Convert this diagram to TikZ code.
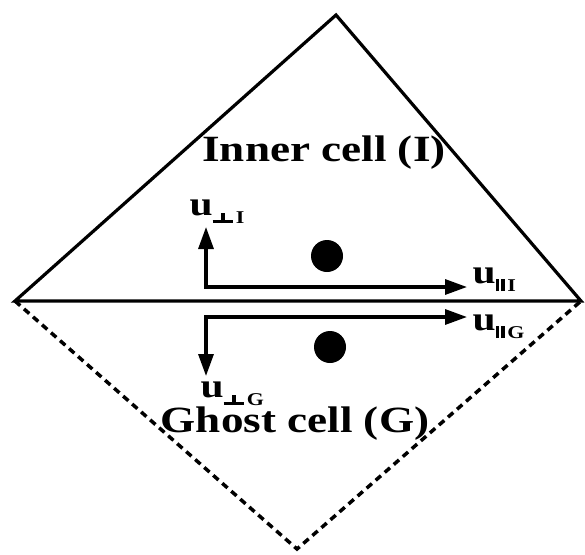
\documentclass[tikz,border=0pt]{standalone}
\usepackage{fontspec}
\setmainfont{Liberation Serif}
\usetikzlibrary{arrows.meta}
\newcommand\wide[1]{\scalebox{1.22}[1]{#1}}
\newcommand\perpsym{\rlap{\hspace{7pt}\rule{3pt}{10pt}}\rule{17pt}{3pt}}
\newcommand\parsym{\rule{3pt}{12pt}\hspace{1.5pt}\rule{3pt}{12pt}}
\newcommand\ulabel[2]{\wide{\fontsize{34}{34}\selectfont\bfseries u\raisebox{-8pt}{\fontsize{18}{18}\selectfont\bfseries #1\hspace{2pt}#2}}}
\begin{document}
\begin{tikzpicture}[x=1pt,y=-1pt,line width=3.2pt,
  edge/.style={line join=miter},
  dashedge/.style={line width=3.5pt,dash pattern=on 7pt off 5pt},
  vec/.style={{Triangle[length=22pt,width=15pt]}-{Triangle[length=22pt,width=15pt]},line join=miter},
  dot/.style={circle,fill=black,draw=none,minimum size=32pt,inner sep=0pt},
  lab/.style={anchor=base west,inner sep=0pt},
  cell/.style={anchor=base,inner sep=0pt,font=\fontsize{37}{37}\selectfont\bfseries}]
\useasboundingbox (0,0) rectangle (585,554);
\coordinate (L) at (15,301);
\coordinate (R) at (581,301);
\coordinate (T) at (336,15);
\coordinate (B) at (297,549);
\draw[edge] (L) -- (T) -- (R) -- cycle;
\draw[dashedge] (L) -- (B) -- (R);
% inner vectors
\coordinate (OI) at (206,287);
\coordinate (pIt) at (206,227);
\coordinate (qIt) at (467,287);
\draw[vec] (pIt) -- (OI) -- (qIt);
% ghost vectors
\coordinate (OG) at (206,317);
\coordinate (pGt) at (206,376);
\coordinate (qGt) at (467,317);
\draw[vec] (pGt) -- (OG) -- (qGt);
% dots
\node[dot] (cI) at (327,256) {};
\node[dot] (cG) at (330,347) {};
% labels
\node[lab] (lpI) at (188,215) {\ulabel{\perpsym}{I}};
\node[lab] (lqI) at (471,283) {\ulabel{\parsym}{I}};
\node[lab] (lqG) at (471,330) {\ulabel{\parsym}{G}};
\node[lab] (lpG) at (199,397) {\ulabel{\perpsym}{G}};
\node[cell] (inner) at (324,161.7) {\wide{Inner cell (I)}};
\node[cell] (ghost) at (295,432) {\wide{Ghost cell (G)}};
\end{tikzpicture}
\end{document}
